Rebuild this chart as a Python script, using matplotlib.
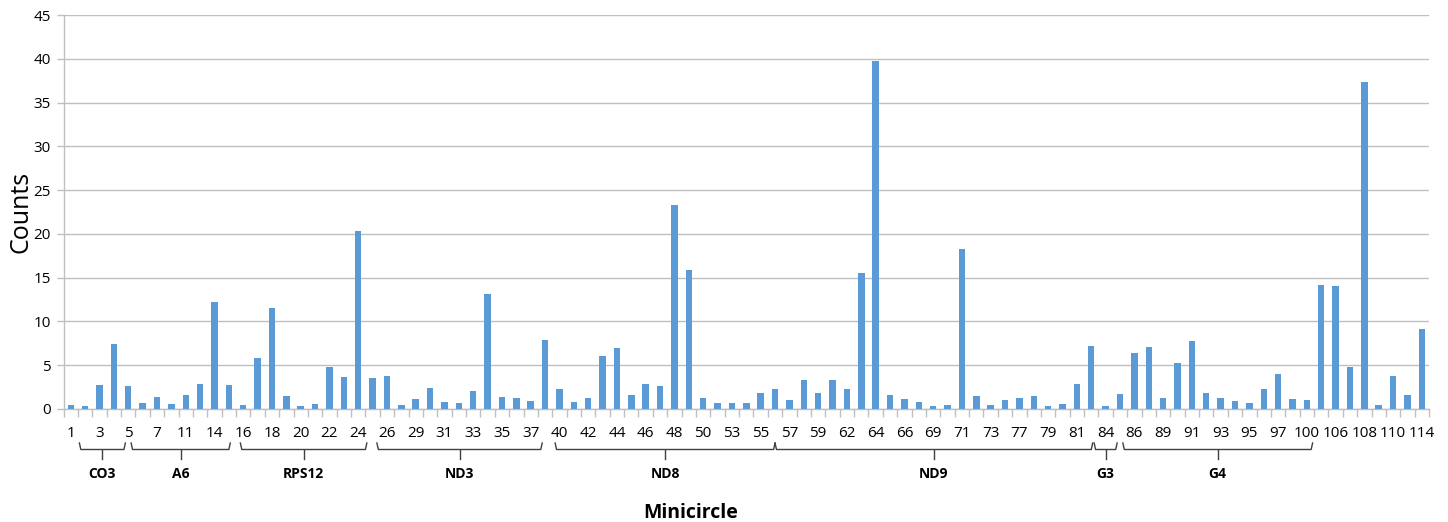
import matplotlib
matplotlib.use("Agg")
import matplotlib.pyplot as plt
from matplotlib.transforms import blended_transform_factory

# ================== data ==================
minicircles = ["1", "2", "3", "4", "5", "6", "7", "8", "11", "12", "14", "15",
               "16", "17", "18", "19", "20", "21", "22", "23", "24", "25", "26", "27",
               "29", "30", "31", "32", "33", "34", "35", "36", "37", "38", "40", "41",
               "42", "43", "44", "45", "46", "47", "48", "49", "50", "51", "53", "54",
               "55", "56", "57", "58", "59", "60", "62", "63", "64", "65", "66", "67",
               "69", "70", "71", "72", "73", "74", "77", "78", "79", "80", "81", "82",
               "84", "85", "86", "87", "89", "90", "91", "92", "93", "94", "95", "96",
               "97", "98", "100", "101", "106", "107", "108", "109", "110", "111", "114"]

counts = [0.4, 0.3, 2.7, 7.4, 2.6, 0.7, 1.4, 0.6, 1.6, 2.9, 12.2, 2.7,
          0.5, 5.8, 11.5, 1.45, 0.35, 0.6, 4.8, 3.7, 20.3, 3.5, 3.8, 0.5,
          1.15, 2.4, 0.8, 0.65, 2.1, 13.1, 1.4, 1.2, 0.9, 7.9, 2.3, 0.75,
          1.2, 6.0, 7.0, 1.55, 2.9, 2.6, 23.3, 15.9, 1.3, 0.7, 0.7, 0.7,
          1.8, 2.3, 1.0, 3.3, 1.8, 3.3, 2.3, 15.5, 39.8, 1.55, 1.1, 0.85,
          0.3, 0.5, 18.3, 1.45, 0.5, 1.05, 1.3, 1.45, 0.3, 0.55, 2.9, 7.2,
          0.3, 1.7, 6.4, 7.1, 1.2, 5.2, 7.75, 1.8, 1.25, 0.9, 0.7, 2.3,
          4.0, 1.15, 1.0, 14.2, 14.1, 4.8, 37.4, 0.45, 3.8, 1.65, 9.15]

# gene groups: name, span in category-index units
groups = ["CO3", "A6", "RPS12", "ND3", "ND8", "ND9", "G3", "G4"]
group_spans = [(0.6, 3.8), (4.2, 11.1), (11.8, 20.6), (21.3, 32.8),
               (33.7, 49.0), (49.0, 71.1), (71.2, 72.8), (73.2, 86.4)]

BAR_COLOR = "#5B9BD5"
GRID_COLOR = "#BFBFBF"
plt.rcParams['font.family'] = ['Open Sans', 'DejaVu Sans']

fig = plt.figure(figsize=(14.48, 5.22), dpi=100)
ax = fig.add_axes([0.0439, 0.2165, 0.943, 0.7545])

x = list(range(len(minicircles)))
ax.bar(x, counts, width=0.45, color=BAR_COLOR, zorder=3)

ax.set_xlim(-0.5, len(minicircles) - 0.5)
ax.set_ylim(0, 45)
ax.set_yticks(range(0, 46, 5))
ax.yaxis.grid(True, color=GRID_COLOR, linewidth=1.0, zorder=0)

# category ticks at the boundaries, labels on every other bar
ax.set_xticks([i - 0.5 for i in range(len(minicircles) + 1)])
ax.set_xticklabels([])
ax.set_xticks(x[::2], minor=True)
ax.set_xticklabels(minicircles[::2], minor=True, fontsize=11)
ax.tick_params(axis='x', which='major', length=6, color=GRID_COLOR, width=1)
ax.tick_params(axis='x', which='minor', length=0, pad=12)
ax.tick_params(axis='y', length=5, color=GRID_COLOR, width=1, labelsize=11, pad=4)

for side in ['top', 'right']:
    ax.spines[side].set_visible(False)
for side in ['left', 'bottom']:
    ax.spines[side].set_color(GRID_COLOR)
    ax.spines[side].set_linewidth(1)

ax.set_ylabel("Counts", fontsize=18, va='center')
ax.yaxis.set_label_coords(-0.0315, 0.5)

# gene brackets under the axis
trans = blended_transform_factory(ax.transData, fig.transFigure)
y_end = 1 - 443 / 522
y_line = 1 - 449.5 / 522
y_tick = 1 - 459 / 522
y_text = 1 - 474 / 522
hook = 0.25
for name, (x0, x1) in zip(groups, group_spans):
    xc = (x0 + x1) / 2
    ax.plot([x0, x0 + hook * 0.4, x1 - hook * 0.4, x1],
            [y_end, y_line, y_line, y_end],
            color="#404040", linewidth=1, transform=trans, clip_on=False)
    ax.plot([xc, xc], [y_line, y_tick], color="#404040", linewidth=1,
            transform=trans, clip_on=False)
    ax.text(xc, y_text, name, transform=trans, ha='center', va='center',
            fontsize=10, fontweight='bold')

fig.text(0.477, 1 - 513 / 522, "Minicircle", ha='center', va='center',
         fontsize=14, fontweight='bold')

fig.savefig("out.png", dpi=100)
